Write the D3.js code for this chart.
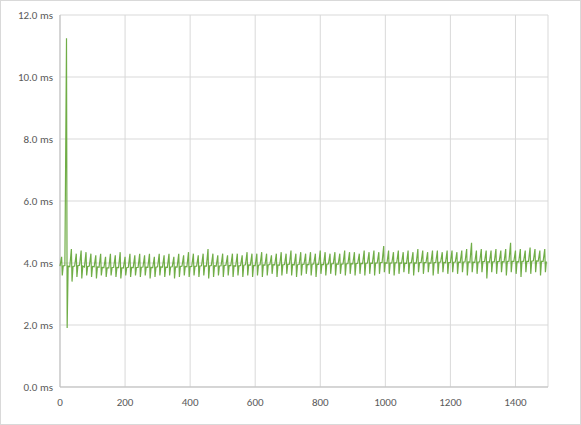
<!DOCTYPE html>
<html><head><meta charset="utf-8">
<script src="https://cdn.jsdelivr.net/npm/d3@7"></script>
<style>body{margin:0;background:#fff}text{font-family:Calibri,Carlito,"Liberation Sans",Arial,sans-serif}</style>
</head><body>
<svg id="c" width="581" height="425"></svg>
<script>
const step = 15;
const xTicks = [0,200,400,600,800,1000,1200,1400];
const yTicks = [0,2,4,6,8,10,12];
const base = [3.9,3.92,3.88,3.9,3.93,3.87,3.9,3.88,3.86,3.85, 3.84,3.86,3.85,3.84,3.86,3.85,3.86,3.87,3.86,3.85,
 3.88,3.87,3.86,3.88,3.87,3.9,3.88,3.89,3.9,3.91, 3.9,3.92,3.9,3.91,3.93,3.92,3.9,3.92,3.94,3.93,
 3.92,3.94,3.93,3.95,3.94,3.93,3.95,3.96,3.94,3.95, 3.96,3.95,3.97,3.96,3.95,3.97,3.98,3.96,3.97,3.98,
 3.97,3.99,3.98,4.0,3.99,4.0,4.02,3.99,4.0,4.01, 4.0,3.99,4.01,4.0,4.02,4.01,4.0,4.02,4.03,4.01,
 4.02,4.03,4.02,4.04,4.03,4.02,4.04,4.05,4.03,4.04, 4.05,4.04,4.06,4.05,4.04,4.06,4.05,4.07,4.06,4.05];
const hi = [4.2,11.25,4.45,4.3,4.4,4.35,4.3,4.25,4.3,4.2, 4.3,4.25,4.35,4.2,4.3,4.25,4.3,4.25,4.3,4.2,
 4.3,4.25,4.3,4.2,4.3,4.25,4.35,4.3,4.25,4.3, 4.45,4.3,4.25,4.3,4.25,4.3,4.3,4.25,4.35,4.3,
 4.3,4.35,4.3,4.25,4.3,4.35,4.3,4.4,4.3,4.35, 4.3,4.35,4.3,4.4,4.35,4.3,4.35,4.3,4.4,4.35,
 4.35,4.3,4.4,4.35,4.4,4.35,4.55,4.4,4.35,4.4, 4.35,4.4,4.35,4.45,4.4,4.35,4.4,4.4,4.35,4.4,
 4.4,4.35,4.4,4.45,4.65,4.4,4.45,4.4,4.4,4.45, 4.4,4.45,4.65,4.4,4.45,4.4,4.5,4.45,4.4,4.45];
const lo = [3.6,1.9,3.4,3.55,3.5,3.6,3.55,3.5,3.6,3.55, 3.6,3.55,3.5,3.6,3.55,3.6,3.55,3.6,3.5,3.55,
 3.6,3.55,3.6,3.5,3.55,3.6,3.55,3.6,3.55,3.6, 3.5,3.55,3.6,3.55,3.6,3.55,3.6,3.55,3.6,3.55,
 3.6,3.55,3.6,3.65,3.55,3.6,3.65,3.6,3.55,3.6, 3.65,3.6,3.55,3.65,3.6,3.65,3.6,3.65,3.6,3.65,
 3.6,3.65,3.6,3.65,3.6,3.65,3.7,3.65,3.6,3.65, 3.7,3.65,3.6,3.7,3.65,3.7,3.6,3.65,3.7,3.65,
 3.7,3.65,3.7,3.6,3.7,3.65,3.7,3.5,3.7,3.65, 3.7,3.6,3.7,3.65,3.55,3.7,3.65,3.7,3.6,3.7];

const svg = d3.select("#c");
svg.append("rect").attr("x",0.5).attr("y",0.5).attr("width",580).attr("height",424).attr("fill","#fff").attr("stroke","#d9d9d9");
const L=60,R=548,T=15,B=387;
const x = d3.scaleLinear().domain([0,1500]).range([L,R]);
const y = d3.scaleLinear().domain([0,12]).range([B,T]);
const g = svg.append("g");
g.selectAll(".hg").data(yTicks).join("line").attr("x1",L).attr("x2",R).attr("y1",d=>y(d)).attr("y2",d=>y(d)).attr("stroke","#d9d9d9");
g.selectAll(".vg").data(xTicks.concat([1500])).join("line").attr("x1",d=>x(d)).attr("x2",d=>x(d)).attr("y1",T).attr("y2",B).attr("stroke","#d9d9d9");
g.append("line").attr("x1",L).attr("x2",L).attr("y1",T).attr("y2",B).attr("stroke","#bfbfbf");
g.append("line").attr("x1",L).attr("x2",R).attr("y1",B).attr("y2",B).attr("stroke","#bfbfbf");
g.selectAll(".yl").data(yTicks).join("text").attr("x",L-7).attr("y",d=>y(d)+4).attr("text-anchor","end").attr("font-size",11).attr("fill","#595959").text(d=>d.toFixed(1)+" ms");
g.selectAll(".xl").data(xTicks).join("text").attr("x",d=>x(d)).attr("y",B+19).attr("text-anchor","middle").attr("font-size",11).attr("fill","#595959").text(d=>d);
const pts=[];
base.forEach((b,i)=>{const s=i*step;pts.push([s,b],[s+5,hi[i]],[s+7,lo[i]],[s+10,(b+base[Math.min(i+1,base.length-1)])/2]);});
g.append("path").datum(pts).attr("fill","none").attr("stroke","#70ad47").attr("stroke-width",1.2)
 .attr("d",d3.line().x(d=>x(d[0])).y(d=>y(d[1])));
</script></body></html>
